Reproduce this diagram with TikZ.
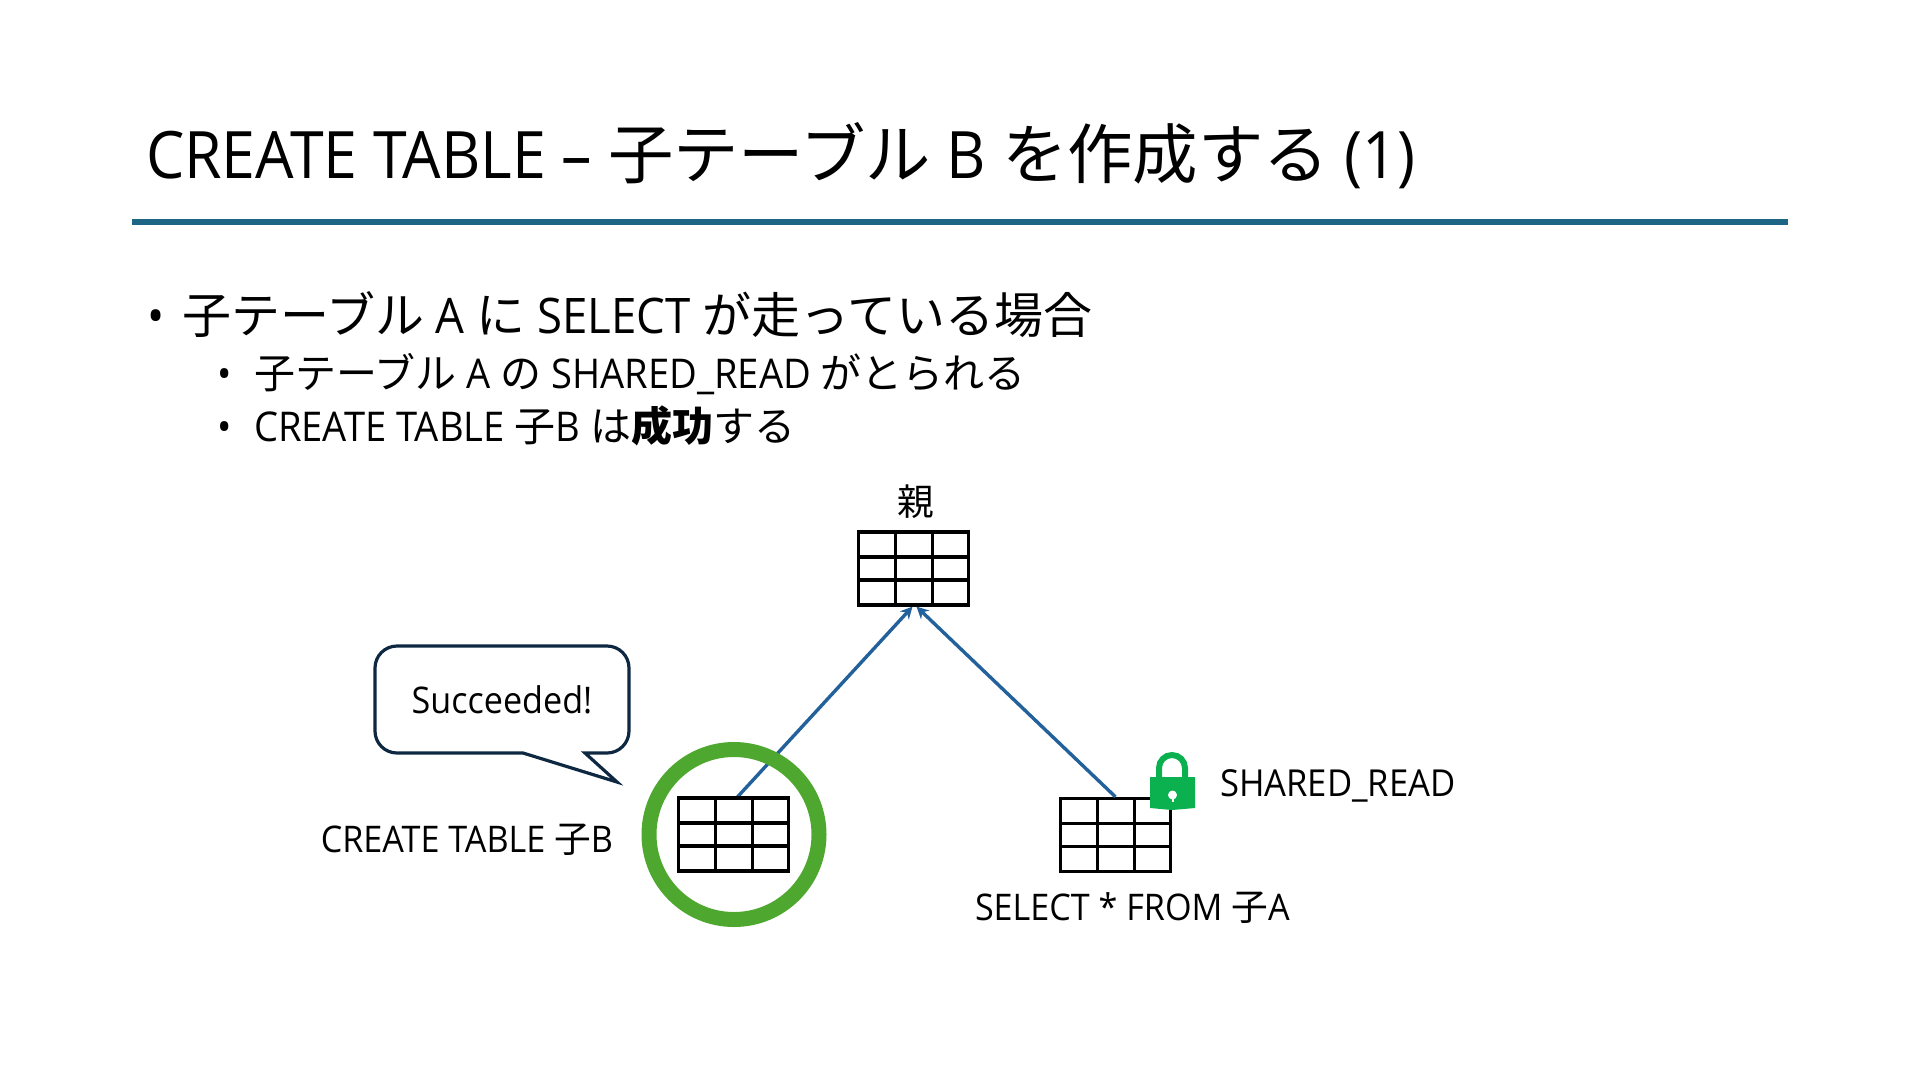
\documentclass[tikz,border=0pt]{standalone}
\usepackage{fontspec}
\setmainfont[FakeStretch=0.93]{Open Sans}
\newfontfamily\cjk{Noto Sans CJK JP}
\newcommand{\fs}[1]{\fontsize{#1}{#1}\selectfont}
\definecolor{rulec}{HTML}{1C6585}
\definecolor{arrowc}{HTML}{22619B}
\definecolor{ringc}{HTML}{4EA72E}
\definecolor{callc}{HTML}{0E2841}
\definecolor{lockc}{HTML}{0BB04F}
\usetikzlibrary{arrows.meta}
\tikzset{
  txt/.style={inner sep=0pt,outer sep=0pt,anchor=base west,text=black},
  grid table/.style={draw=black,line width=3.2pt,minimum width=110pt,minimum height=73pt,inner sep=0pt,
    path picture={
      \draw[line width=3.2pt] ([xshift=37pt]path picture bounding box.south west) -- ([xshift=37pt]path picture bounding box.north west);
      \draw[line width=3.2pt] ([xshift=-36pt]path picture bounding box.south east) -- ([xshift=-36pt]path picture bounding box.north east);
      \draw[line width=3.2pt] ([yshift=25pt]path picture bounding box.south west) -- ([yshift=25pt]path picture bounding box.south east);
      \draw[line width=3.2pt] ([yshift=-25pt]path picture bounding box.north west) -- ([yshift=-25pt]path picture bounding box.north east);
    }},
  link/.style={draw=arrowc,line width=3.4pt,-{Stealth[length=12pt,width=12pt]}},
}
\begin{document}
\begin{tikzpicture}[x=1pt,y=-1pt]
\useasboundingbox (0,0) rectangle (1920,1080);
% title
\node[txt] (title) at (146,178) {\fs{65.4}CREATE TABLE – {\cjk 子テーブル} B {\cjk を作成する} (1)};
\draw[rulec,line width=6pt] (132,222) -- (1788,222);
% bullets
\node[txt] (b1) at (147,333) {\fs{49}•};
\node[txt] (t1) at (182,333) {\fs{49}{\cjk 子テーブル} A {\cjk に} SELECT {\cjk が走っている場合}};
\node[txt] (b2) at (217,388) {\fs{41}•};
\node[txt] (t2) at (254,388) {\fs{41}{\cjk 子テーブル} A {\cjk の} SHARED\_READ {\cjk がとられる}};
\node[txt] (b3) at (217,441) {\fs{41}•};
\node[txt] (t3) at (254,441) {\fs{41}CREATE TABLE {\cjk 子}B {\cjk は\textbf{成功}する}};
% connectors run under the ring; tables
\node[grid table] (parent) at (913.5,568.5) {};
\node[grid table] (childA) at (1115.5,835) {};
\node[inner sep=0pt] (parentlabel) at (916,502) {\fs{36.7}\cjk 親};
\coordinate (parentL) at ([xshift=-1pt]parent.south);
\coordinate (parentR) at ([xshift=3pt]parent.south);
\coordinate (startB) at (736.5,798);
\coordinate (startA) at (childA.north);
\draw[link] (startB) -- (parentL);
\draw[link] (startA) -- (parentR);
% ring
\node[circle,draw=ringc,line width=15pt,minimum size=170pt,inner sep=0pt] (ring) at (734,834.5) {};
\node[grid table] (childB) at (733.5,834.5) {};
% callout
\draw[callc,line width=3.2pt,fill=white,line join=miter]
  (523,753) [rounded corners=22pt] -- (375,753) -- (375,646) -- (629,646) -- (629,753) [rounded corners=0pt]
  -- (585,753) -- (617,782) -- cycle;
\node[inner sep=0pt] (succ) at (502,700) {\fs{36.7}Succeeded!};
% labels
\node[txt,anchor=base east] (lblB) at (613,852) {\fs{36.7}CREATE TABLE {\cjk 子}B};
\node[txt] (lblA) at (975,920) {\fs{36.7}SELECT * FROM {\cjk 子}A};
\node[txt] (lblS) at (1220,796) {\fs{37.2}SHARED\_READ};
% lock
\draw[lockc,line width=6pt] (1159,780) -- (1159,768) arc[start angle=180,end angle=0,radius=13pt] -- (1185,780);
\fill[lockc] (1150,777) -- (1195,777) -- (1195,808) -- (1172,810) -- (1150,808) -- cycle;
\fill[white] (1172.5,795) circle (4.5pt);
\fill[white] (1171.5,795) rectangle (1173.5,802);
\end{tikzpicture}
\end{document}
